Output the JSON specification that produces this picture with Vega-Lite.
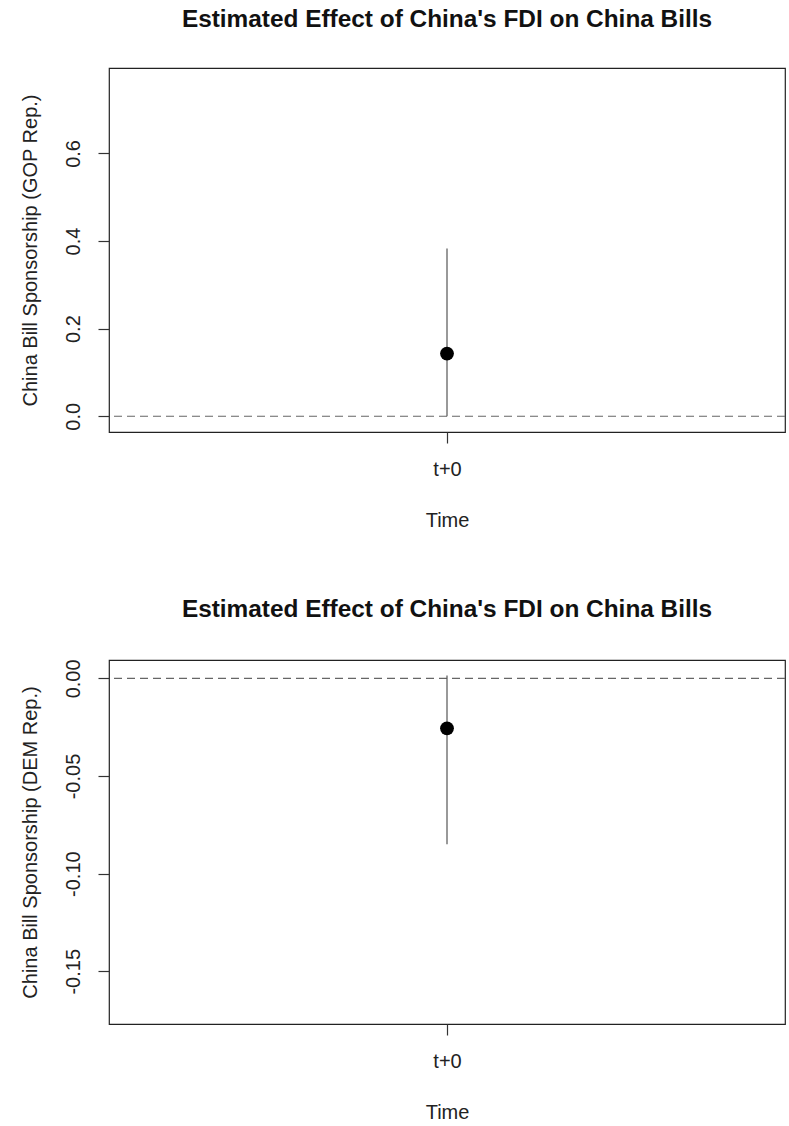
{
  "$schema": "https://vega.github.io/schema/vega-lite/v6.json",
  "background": "white",
  "padding": {"left": 19, "top": 6, "right": 5, "bottom": 5},
  "datasets": {
    "gop": [{"time": "t+0", "est": 0.143, "lo": 0.0, "hi": 0.383}],
    "dem": [{"time": "t+0", "est": -0.0256, "lo": -0.085, "hi": 0.0015}],
    "zero": [{"y": 0}]
  },
  "config": {
    "view": {"stroke": "#222", "strokeWidth": 1.2},
    "font": "Liberation Sans",
    "axis": {
      "domain": false, "grid": false, "tickColor": "#333", "tickSize": 11, "tickWidth": 1.2,
      "labelFont": "Liberation Sans", "labelFontSize": 20, "labelColor": "#222",
      "titleFont": "Liberation Sans", "titleFontSize": 20, "titleFontWeight": "normal", "titleColor": "#222"
    },
    "axisX": {"labelAngle": 0, "labelBaseline": "alphabetic", "labelPadding": 32, "titleBaseline": "alphabetic", "titleY": 94, "titleX": 338, "titleAlign": "center"},
    "axisY": {"labelAngle": 270, "labelAlign": "center", "labelBaseline": "alphabetic", "labelPadding": 19,
      "titleAngle": 270, "titleBaseline": "alphabetic", "titleAlign": "center", "titleX": -73, "titleY": 182},
    "title": {"font": "Liberation Sans", "fontSize": 24.4, "fontWeight": "bold", "color": "#111", "anchor": "middle", "baseline": "alphabetic", "offset": 36}
  },
  "spacing": 228,
  "bounds": "flush",
  "vconcat": [
    {
      "title": "Estimated Effect of China's FDI on China Bills",
      "width": 676, "height": 364,
      "layer": [
        {
          "data": {"name": "zero"},
          "mark": {"type": "rule", "strokeDash": [8, 5], "color": "#666", "strokeWidth": 1.2},
          "encoding": {"y": {"field": "y", "type": "quantitative", "scale": {"domain": [-0.036, 0.795], "nice": false, "zero": false},
              "axis": {"title": "China Bill Sponsorship (GOP Rep.)", "values": [0, 0.2, 0.4, 0.6], "format": ".1f"}}}
        },
        {
          "data": {"name": "gop"},
          "mark": {"type": "rule", "color": "#555", "strokeWidth": 1.2},
          "encoding": {
            "x": {"field": "time", "type": "nominal", "scale": {"type": "point", "padding": 0.5}, "axis": {"title": "Time"}},
            "y": {"field": "lo", "type": "quantitative", "title": "China Bill Sponsorship (GOP Rep.)"},
            "y2": {"field": "hi"}
          }
        },
        {
          "data": {"name": "gop"},
          "mark": {"type": "point", "filled": true, "color": "#000", "opacity": 1, "size": 190},
          "encoding": {
            "x": {"field": "time", "type": "nominal", "title": "Time"},
            "y": {"field": "est", "type": "quantitative", "title": "China Bill Sponsorship (GOP Rep.)"}
          }
        }
      ]
    },
    {
      "title": "Estimated Effect of China's FDI on China Bills",
      "width": 676, "height": 364,
      "layer": [
        {
          "data": {"name": "zero"},
          "mark": {"type": "rule", "strokeDash": [8, 5], "color": "#666", "strokeWidth": 1.2},
          "encoding": {"y": {"field": "y", "type": "quantitative", "scale": {"domain": [-0.177, 0.0094], "nice": false, "zero": false},
              "axis": {"title": "China Bill Sponsorship (DEM Rep.)", "values": [0, -0.05, -0.1, -0.15],
                "labelExpr": "replace(format(datum.value, '.2f'), '\u2212', '-')"}}}
        },
        {
          "data": {"name": "dem"},
          "mark": {"type": "rule", "color": "#555", "strokeWidth": 1.2},
          "encoding": {
            "x": {"field": "time", "type": "nominal", "scale": {"type": "point", "padding": 0.5}, "axis": {"title": "Time"}},
            "y": {"field": "lo", "type": "quantitative", "title": "China Bill Sponsorship (DEM Rep.)"},
            "y2": {"field": "hi"}
          }
        },
        {
          "data": {"name": "dem"},
          "mark": {"type": "point", "filled": true, "color": "#000", "opacity": 1, "size": 190},
          "encoding": {
            "x": {"field": "time", "type": "nominal", "title": "Time"},
            "y": {"field": "est", "type": "quantitative", "title": "China Bill Sponsorship (DEM Rep.)"}
          }
        }
      ]
    }
  ]
}
